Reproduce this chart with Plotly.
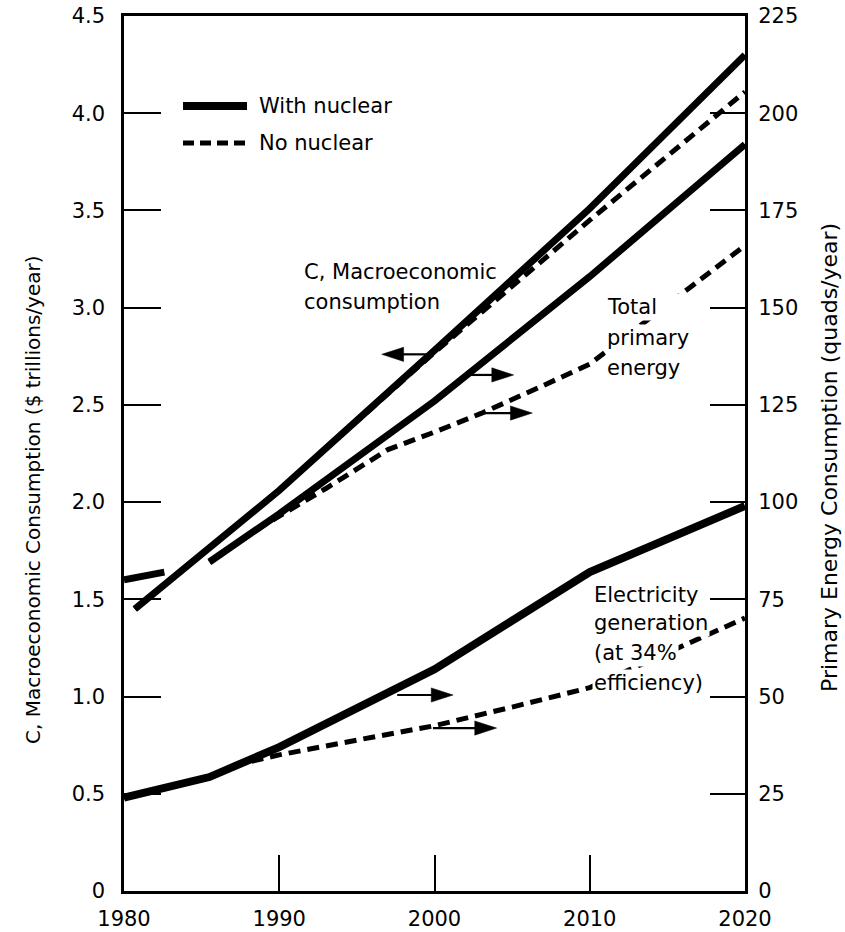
import plotly.graph_objects as go

# ---------------- data ----------------
# C, macroeconomic consumption ($ trillions/year) - left axis
c_years = [1980.7, 1990, 2000, 2010, 2020]
c_with_nuclear = [1.45, 2.06, 2.78, 3.51, 4.30]
c_no_nuclear = [1.45, 2.06, 2.77, 3.45, 4.11]

# Total primary energy (quads/year) - right axis
energy_years_nuc = [1980, 1982.6, 1984, 1985.5, 1990, 2000, 2010, 2020]
energy_with_nuclear = [80, 82, None, 84.6, 97, 126, 158, 192]
energy_years_nonuc = [1985.5, 1989, 1993, 1997, 2000, 2003, 2006.8, 2010, 2020]
energy_no_nuclear = [84.6, 94, 103.5, 113.5, 118, 122.8, 129.6, 135.5, 166]

# Electricity generation (quads/year, at 34% efficiency) - right axis
elec_years_nuc = [1980, 1985.5, 1990, 2000, 2010, 2020]
elec_with_nuclear = [24, 29.3, 37, 57, 82, 99]
elec_years_nonuc = [1980, 1985.5, 1987.5, 1990, 1995, 2000, 2005, 2010, 2020]
elec_no_nuclear = [24, 29.3, 32.7, 35, 38.8, 42.5, 47.3, 52.3, 70.2]

# axis ticks
x_ticks = [1980, 1990, 2000, 2010, 2020]
left_ticks = [0, 0.5, 1.0, 1.5, 2.0, 2.5, 3.0, 3.5, 4.0, 4.5]
left_tick_labels = ["0", "0.5", "1.0", "1.5", "2.0", "2.5", "3.0", "3.5", "4.0", "4.5"]
right_ticks = [0, 25, 50, 75, 100, 125, 150, 175, 200, 225]

# pointer arrows: (tail year, head year, value, axis)
arrows = [
    (1999.9, 1996.6, 2.76, "y"),
    (2002.3, 2005.1, 132.7, "y2"),
    (2002.9, 2006.3, 122.9, "y2"),
    (1997.6, 2001.2, 50.4, "y2"),
    (1999.9, 2004.0, 41.9, "y2"),
]

FONT = "DejaVu Sans"
BLACK = "#000000"
SOLID_W = 7
DASH_W = 5
DASH = "12px,7px"

fig = go.Figure()

# dashed (no nuclear) first so solid overlays
fig.add_trace(go.Scatter(x=c_years, y=c_no_nuclear, mode="lines",
                         line=dict(color=BLACK, width=DASH_W, dash=DASH), yaxis="y"))
fig.add_trace(go.Scatter(x=energy_years_nonuc, y=energy_no_nuclear, mode="lines",
                         line=dict(color=BLACK, width=DASH_W, dash=DASH), yaxis="y2"))
fig.add_trace(go.Scatter(x=elec_years_nonuc, y=elec_no_nuclear, mode="lines",
                         line=dict(color=BLACK, width=DASH_W, dash=DASH), yaxis="y2"))
# solid (with nuclear)
fig.add_trace(go.Scatter(x=c_years, y=c_with_nuclear, mode="lines",
                         line=dict(color=BLACK, width=SOLID_W), yaxis="y"))
fig.add_trace(go.Scatter(x=energy_years_nuc, y=energy_with_nuclear, mode="lines",
                         connectgaps=False,
                         line=dict(color=BLACK, width=SOLID_W), yaxis="y2"))
fig.add_trace(go.Scatter(x=elec_years_nuc, y=elec_with_nuclear, mode="lines",
                         line=dict(color=BLACK, width=SOLID_W + 1), yaxis="y2"))

# arrows
for tail, head, val, ax in arrows:
    fig.add_trace(go.Scatter(
        x=[tail, head], y=[val, val], mode="lines+markers", yaxis=ax,
        line=dict(color=BLACK, width=2.2),
        marker=dict(symbol="arrow", size=[0, 23], angleref="previous", color=BLACK,
                    opacity=1, line=dict(width=0.5, color=BLACK)),
    ))

annotations = []

def label(text, x, y, yref, bg=None, width=None):
    d = dict(text=text, x=x, y=y, xref="x", yref=yref, showarrow=False,
             xanchor="left", yanchor="middle", align="left",
             font=dict(family=FONT, size=21, color=BLACK))
    if bg:
        d.update(bgcolor=bg, borderpad=1)
    if width:
        d.update(width=width)
    annotations.append(d)

# C label
label("C, Macroeconomic", 1991.47, 3.184, "y")
label("consumption", 1991.47, 3.03, "y")
# Total primary energy (white box hides the dashed line behind it)
label("Total", 2010.98, 150.2, "y2", "white", 86)
label("primary", 2010.98, 142.2, "y2", "white", 86)
label("energy", 2010.98, 134.5, "y2", "white", 86)
# Electricity
label("Electricity", 2010.15, 76.1, "y2", "white")
label("generation", 2010.15, 68.9, "y2", "white")
label("(at 34%", 2010.15, 61.2, "y2", "white")
label("efficiency)", 2010.15, 53.5, "y2", "white")

# legend (drawn manually) and axis titles, placed in paper coordinates
W, H = 845, 932
L, R, T, B = 124, 100, 16, 41
pw, ph = W - L - R, H - T - B
def px(x):
    return (x - L) / pw
def py(y):
    return (H - B - y) / ph

shapes = [
    dict(type="line", xref="paper", yref="paper", x0=px(183), x1=px(247), y0=py(106), y1=py(106),
         line=dict(color=BLACK, width=8)),
    dict(type="line", xref="paper", yref="paper", x0=px(183), x1=px(247), y0=py(143), y1=py(143),
         line=dict(color=BLACK, width=5, dash="11px,6px")),
]
annotations.append(dict(text="With nuclear", x=px(257), y=py(106), xref="paper", yref="paper",
                        showarrow=False, xanchor="left", yanchor="middle",
                        font=dict(family=FONT, size=21, color=BLACK)))
annotations.append(dict(text="No nuclear", x=px(257), y=py(143), xref="paper", yref="paper",
                        showarrow=False, xanchor="left", yanchor="middle",
                        font=dict(family=FONT, size=21, color=BLACK)))
# axis titles
annotations.append(dict(text="C, Macroeconomic Consumption ($ trillions/year)",
                        x=px(33), y=py(500), xref="paper", yref="paper", showarrow=False,
                        xanchor="center", yanchor="middle", textangle=-90,
                        font=dict(family=FONT, size=20, color=BLACK)))
annotations.append(dict(text="Primary Energy Consumption (quads/year)",
                        x=px(829), y=py(458), xref="paper", yref="paper", showarrow=False,
                        xanchor="center", yanchor="middle", textangle=-90,
                        font=dict(family=FONT, size=22, color=BLACK)))

tickfont = dict(family=FONT, size=21, color=BLACK)

fig.update_layout(
    width=W, height=H,
    margin=dict(l=L, r=R, t=T, b=B, pad=0, autoexpand=False),
    paper_bgcolor="white", plot_bgcolor="white",
    showlegend=False,
    hovermode=False,
    font=dict(family=FONT, color=BLACK),
    shapes=shapes,
    annotations=annotations,
    xaxis=dict(range=[1980, 2020], tickvals=x_ticks, ticktext=[str(v) for v in x_ticks],
               ticks="inside", ticklen=36, tickwidth=2, tickcolor=BLACK,
               showline=True, linewidth=3, linecolor=BLACK, mirror=True, automargin=False,
               showgrid=False, zeroline=False, tickfont=tickfont, ticklabelstandoff=7),
    yaxis=dict(range=[0, 4.5], tickvals=left_ticks, ticktext=left_tick_labels,
               ticks="inside", ticklen=37, tickwidth=2, tickcolor=BLACK,
               showline=True, linewidth=2.5, linecolor=BLACK, automargin=False,
               showgrid=False, zeroline=False, tickfont=tickfont, ticklabelstandoff=12),
    yaxis2=dict(range=[0, 225], tickvals=right_ticks, overlaying="y", side="right",
                ticks="inside", ticklen=35, tickwidth=2, tickcolor=BLACK,
                showline=True, linewidth=3, linecolor=BLACK, automargin=False,
                showgrid=False, zeroline=False, tickfont=tickfont, ticklabelstandoff=6),
)

fig.write_html("out.html", config={"displayModeBar": False},
               post_script="document.body.style.margin='0px';")
